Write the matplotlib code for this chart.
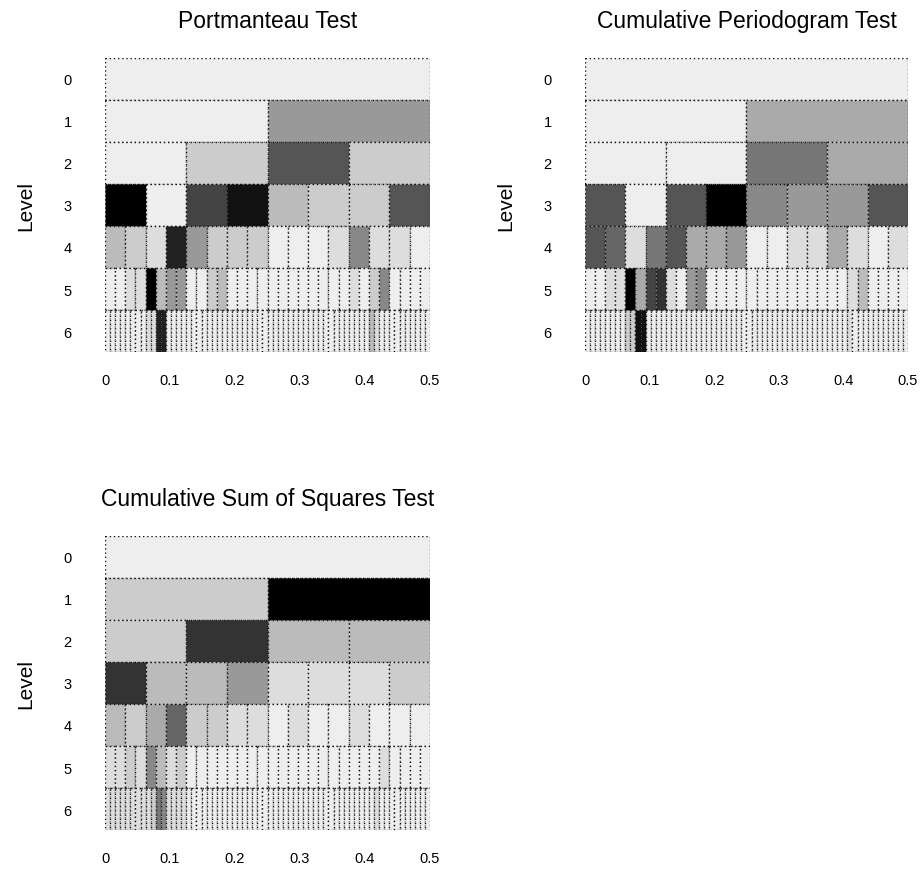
import matplotlib
matplotlib.use('Agg')
import matplotlib.pyplot as plt
from matplotlib.patches import Rectangle

plt.rcParams['font.family'] = ['Liberation Sans', 'DejaVu Sans']

# grey shade per cell, one hex digit per cell (E = #EEEEEE ... 0 = #000000)
# level j has 2**j cells spanning frequencies 0 .. 0.5
portmanteau = [
    "E",
    "E9",
    "EC5C",
    "0E41BCC5",
    "BCD29CCCEEED8DDE",
    "EEDD0B99EECBEEEE" "EEEEEEEEDEC8EEEE",
    "EEEEEEEEDD22EEEE" "EEEEEEEEEEEEEEEE" "EEEEEEEEEEEEEEEE" "EEEEBDEEEEEEEEEE",
]
periodogram = [
    "E",
    "EA",
    "EE7A",
    "5E508995",
    "56D75AA9EEDDADED",
    "EEDD0A43DE98EEEE" "EEEEEEEEEEDBEEEE",
    "EEEEEEEECC11EEEE" "EEEEEEEEEEEEEEEE" "EEEEEEEEEEEEEEEE" "EEEEDEEEEEEEEEEE",
]
sumsquares = [
    "E",
    "C0",
    "C3BB",
    "3BB9DDDC",
    "BCA6CCDDEDEEDEEE",
    "DDCD8BDCEEEEEEEE" "EEEEEEEEEEEDEEEE",
    "DDDDDDDDDC78DDDD" "EEEEEEEEEEEEEEEE" "EEEEEEEEEEEEEEEE" "EEEEEDEEEEEEEEEE",
]
titles = ["Portmanteau Test", "Cumulative Periodogram Test",
          "Cumulative Sum of Squares Test"]
xticks = [0, 0.1, 0.2, 0.3, 0.4, 0.5]
xticklabels = ["0", "0.1", "0.2", "0.3", "0.4", "0.5"]
levels = list(range(7))

fig = plt.figure(figsize=(9.22, 8.79), dpi=100)
positions = [
    [0.1139, 0.5984, 0.3525, 0.3345],
    [0.6345, 0.5984, 0.3503, 0.3345],
    [0.1139, 0.0546, 0.3525, 0.3345],
]

def draw_panel(ax, shades, title):
    for j, row in enumerate(shades):
        n = len(row)
        w = 0.5 / n
        for k, s in enumerate(row):
            ax.add_patch(Rectangle((k * w, j), w, 1,
                                   facecolor='#' + s * 6,
                                   edgecolor='#111111', lw=1.0,
                                   linestyle=(0, (1, 2))))
    ax.set_xlim(0, 0.5)
    ax.set_ylim(7, 0)
    ax.set_xticks(xticks)
    ax.set_xticklabels(xticklabels)
    ax.set_yticks([l + 0.5 for l in levels])
    ax.set_yticklabels([str(l) for l in levels])
    ax.tick_params(axis='x', length=0, pad=15, labelsize=10.5)
    ax.tick_params(axis='y', length=0, pad=24, labelsize=10.5)
    for sp in ax.spines.values():
        sp.set_visible(False)
    ax.set_ylabel("Level", fontsize=15, labelpad=20)
    ax.set_title(title, fontsize=16.5, pad=22)

for pos, shades, title in zip(positions, [portmanteau, periodogram, sumsquares], titles):
    ax = fig.add_axes(pos)
    draw_panel(ax, shades, title)

fig.savefig('out.png', dpi=100)
